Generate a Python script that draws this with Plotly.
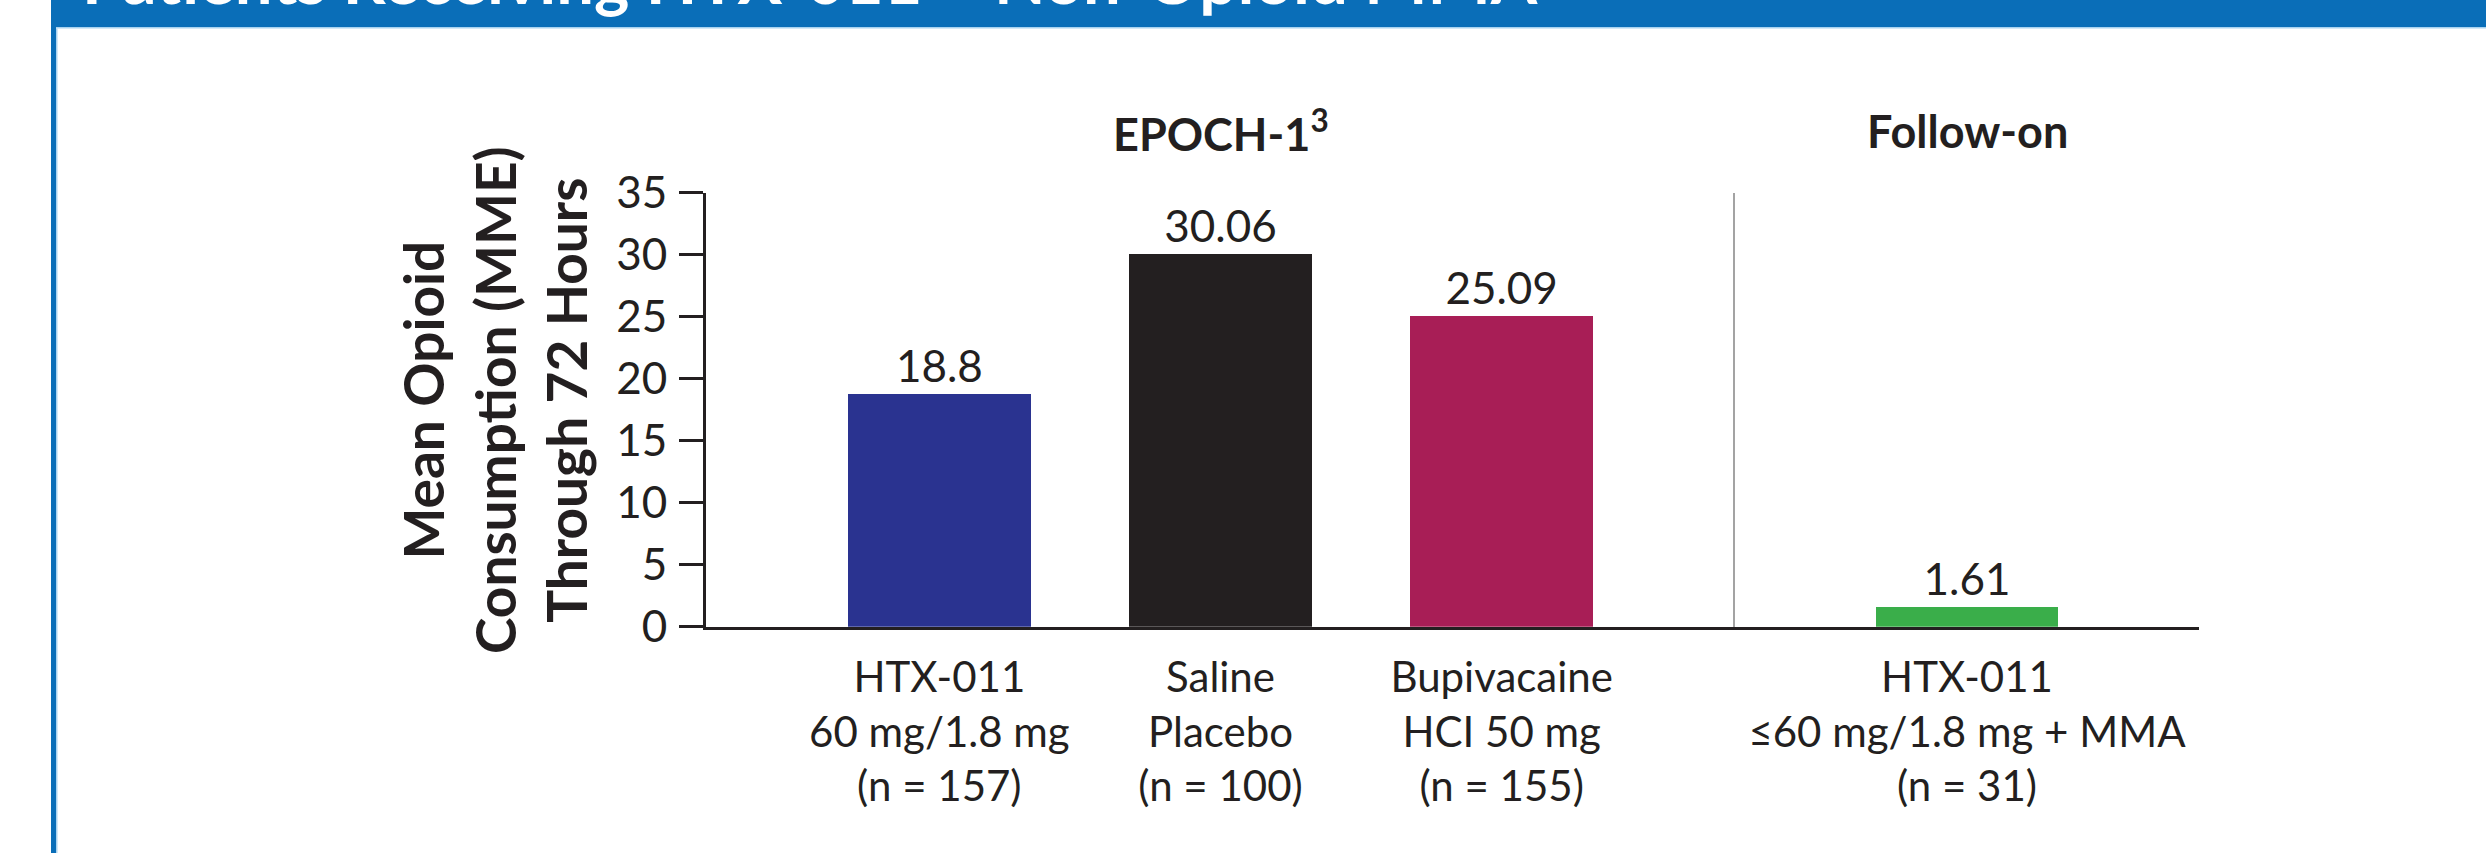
import plotly.graph_objects as go

W, H = 2486, 853

# ---- data ----
epoch_categories = [
    "HTX-011<br>60 mg/1.8 mg<br>(n = 157)",
    "Saline<br>Placebo<br>(n = 100)",
    "Bupivacaine<br>HCI 50 mg<br>(n = 155)",
]
epoch_values = [18.8, 30.06, 25.09]
epoch_colors = ["#2A3390", "#231F20", "#A81E56"]

follow_categories = ["HTX-011<br>≤60 mg/1.8 mg + MMA<br>(n = 31)"]
follow_values = [1.61]
follow_colors = ["#3AAE4A"]

group_titles = ["<b>EPOCH-1<sup>3</sup></b>", "<b>Follow-on</b>"]
y_tick_values = [0, 5, 10, 15, 20, 25, 30, 35]
y_title = "<b>Mean Opioid<br>Consumption (MME)<br>Through 72 Hours</b>"
banner_title = "<b>Patients Receiving HTX-011 + Non-Opioid MMA</b>"

# ---- styling helpers ----
FONT = "Gill Sans, Gill Sans MT, Lato, sans-serif"
INK = "#231F20"
BLUE = "#0A6EB8"


def px_x(px):
    return px / W


def px_y(py):
    return 1 - py / H


# plot geometry (pixels)
AX_LEFT, DIVIDER, AX_RIGHT = 706, 1735, 2199
Y_TOP, Y_BOTTOM = 192.7, 626.7
PAD = 0.83
BAR_W = 0.651

fig = go.Figure()

fig.add_trace(go.Bar(
    x=epoch_categories, y=epoch_values,
    marker=dict(color=epoch_colors, line=dict(width=0)),
    width=BAR_W,
    text=[f"{v:g}" for v in epoch_values],
    textposition="outside",
    textfont=dict(family=FONT, size=44, color=INK),
    cliponaxis=False,
    hoverinfo="skip",
    xaxis="x", yaxis="y",
    showlegend=False,
))
fig.add_trace(go.Bar(
    x=follow_categories, y=follow_values,
    marker=dict(color=follow_colors, line=dict(width=0)),
    width=BAR_W,
    text=[f"{v:g}" for v in follow_values],
    textposition="outside",
    textfont=dict(family=FONT, size=44, color=INK),
    cliponaxis=False,
    hoverinfo="skip",
    xaxis="x2", yaxis="y2",
    showlegend=False,
))

y_domain = [px_y(Y_BOTTOM), px_y(Y_TOP)]

xaxis_common = dict(
    type="category",
    showline=True, linecolor=INK, linewidth=3,
    ticks="", showgrid=False, zeroline=False,
    tickfont=dict(family=FONT, size=42, color=INK),
    ticklabelstandoff=12,
    automargin=False, fixedrange=True,
)

fig.update_layout(
    width=W, height=H,
    margin=dict(l=0, r=0, t=0, b=0),
    paper_bgcolor="white", plot_bgcolor="white",
    showlegend=False,
    bargap=0,
    xaxis=dict(domain=[px_x(AX_LEFT), px_x(DIVIDER)], range=[-PAD, 2 + PAD],
               anchor="y", **xaxis_common),
    xaxis2=dict(domain=[px_x(DIVIDER), px_x(AX_RIGHT)], range=[-PAD, PAD],
                anchor="y2", **xaxis_common),
    yaxis=dict(domain=y_domain, range=[0, 35], anchor="x",
               tickvals=y_tick_values, ticktext=[str(v) for v in y_tick_values],
               ticks="outside", ticklen=24, tickwidth=3, tickcolor=INK,
               showline=True, linecolor=INK, linewidth=3,
               showgrid=False, zeroline=False,
               tickfont=dict(family=FONT, size=44, color=INK),
               ticklabelstandoff=3,
               automargin=False, fixedrange=True),
    yaxis2=dict(domain=y_domain, range=[0, 35], anchor="x2",
                showline=True, linecolor="#A3A3A3", linewidth=2,
                showticklabels=False, ticks="", showgrid=False, zeroline=False,
                automargin=False, fixedrange=True),
)

# frame decorations
fig.add_shape(type="rect", xref="paper", yref="paper",
              x0=px_x(51), x1=1, y0=px_y(27), y1=1,
              fillcolor=BLUE, line=dict(width=0), layer="below")
fig.add_shape(type="rect", xref="paper", yref="paper",
              x0=px_x(56), x1=1, y0=px_y(28.5), y1=px_y(27),
              fillcolor="#A9D3F0", line=dict(width=0), layer="below")
fig.add_shape(type="rect", xref="paper", yref="paper",
              x0=px_x(51), x1=px_x(56), y0=0, y1=px_y(27),
              fillcolor=BLUE, line=dict(width=0), layer="below")
fig.add_shape(type="rect", xref="paper", yref="paper",
              x0=px_x(56), x1=px_x(57.5), y0=0, y1=px_y(28.5),
              fillcolor="#A9D3F0", line=dict(width=0), layer="below")

# banner title (mostly cut off at top, as in the reference)
fig.add_annotation(text=banner_title, xref="paper", yref="paper",
                   x=px_x(80), y=px_y(20), xanchor="left", yanchor="bottom",
                   showarrow=False,
                   font=dict(family=FONT, size=67, color="white"))

# group titles
group_centers = [(AX_LEFT + DIVIDER) / 2, (DIVIDER + AX_RIGHT) / 2]
for title, cx in zip(group_titles, group_centers):
    fig.add_annotation(text=title, xref="paper", yref="paper",
                       x=px_x(cx), y=px_y(131), xanchor="center", yanchor="middle",
                       showarrow=False,
                       font=dict(family=FONT, size=45, color=INK))

# y-axis title
fig.add_annotation(text=y_title, xref="paper", yref="paper",
                   x=px_x(494), y=px_y(400), xanchor="center", yanchor="middle",
                   textangle=-90, showarrow=False,
                   font=dict(family=FONT, size=55, color=INK))

fig.write_html("out.html",
               config={"displayModeBar": False, "staticPlot": True},
               post_script="document.body.style.margin='0';"
                           "document.documentElement.style.overflow='hidden';")
